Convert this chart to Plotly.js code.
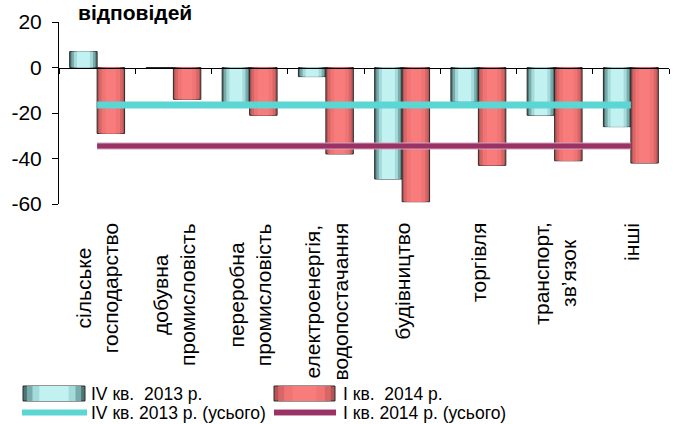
<!DOCTYPE html>
<html>
<head>
<meta charset="utf-8">
<script src="https://cdn.plot.ly/plotly-3.0.1.min.js"></script>
<style>html,body{margin:0;padding:0;background:#fff;}#chart{width:677px;height:424px;}</style>
</head>
<body>
<div id="chart"></div>
<script>
// ---- data ----
var categories = ["c1","c2","c3","c4","c5","c6","c7","c8"];
var categoryLabels = [
  "сільське<br>господарство",
  "добувна<br>промисловість",
  "переробна<br>промисловість",
  "електроенергія,<br>водопостачання",
  "будівництво",
  "торгівля",
  "транспорт,<br>зв’язок",
  "інші"
];
var q4_2013 = [7, 0, -16, -4, -49, -15, -21, -26];
var q1_2014 = [-29, -14, -21, -38, -59, -43, -41, -42];
var total_q4_2013 = [-16.5, -16.5, -16.5, -16.5, -16.5, -16.5, -16.5, -16.5];
var total_q1_2014 = [-34.5, -34.5, -34.5, -34.5, -34.5, -34.5, -34.5, -34.5];
var seriesNames = ["IV кв.\u00A0 2013 р.", "I кв.\u00A0 2014 р.", "IV кв. 2013 р. (усього)", "I кв. 2014 р. (усього)"];
var yTicks = [20, 0, -20, -40, -60];

var FONT = "Liberation Sans, Arial, sans-serif";
var W = 677, H = 424, ML = 59, MR = 8, MT = 22, MB = 220;
var PW = W - ML - MR, PH = H - MT - MB;
function px(x) { return (x - ML) / PW; }
function py(y) { return (H - MB - y) / PH; }

// shading layers (outer -> inner) to imitate cylindrical gradient
var tealLayers = [
  { w: 0.36, c: "#4e7676" },
  { w: 0.315, c: "#78abab" },
  { w: 0.25, c: "#a4dada" },
  { w: 0.17, c: "#c2f1f1" }
];
var redLayers = [
  { w: 0.36, c: "#b45454" },
  { w: 0.31, c: "#d86666" },
  { w: 0.24, c: "#f07474" },
  { w: 0.14, c: "#f97c7c" }
];
function barLayers(values, name, center, layers) {
  return layers.map(function (L, i) {
    return {
      type: "bar", x: categories, y: values, name: name,
      width: L.w, offset: center - L.w / 2,
      marker: { color: L.c, line: { width: i === 0 ? 1 : 0, color: "#2a2a2a" } },
      showlegend: false, hoverinfo: "skip"
    };
  });
}

var traces = []
  .concat(barLayers(q4_2013, seriesNames[0], -0.18, tealLayers))
  .concat(barLayers(q1_2014, seriesNames[1], 0.18, redLayers));

traces.push({
  type: "scatter", mode: "lines", x: categories, y: total_q4_2013, name: seriesNames[2],
  line: { color: "#5cd6d3", width: 7 }, showlegend: false, hoverinfo: "skip"
});
traces.push({
  type: "scatter", mode: "lines", x: categories, y: total_q1_2014, name: seriesNames[3],
  line: { color: "#d3a3bb", width: 7 }, showlegend: false, hoverinfo: "skip"
});
traces.push({
  type: "scatter", mode: "lines", x: categories, y: total_q1_2014, name: seriesNames[3],
  line: { color: "#993366", width: 5 }, showlegend: false, hoverinfo: "skip"
});

var annotations = categories.map(function (c, i) {
  return {
    x: c, xref: "x", y: py(221), yref: "paper", yanchor: "top", xanchor: "center",
    text: categoryLabels[i], textangle: -90, showarrow: false, align: "center",
    font: { family: FONT, size: 21, color: "#000" }
  };
});
annotations.push({
  x: px(77), xref: "paper", xanchor: "left", y: py(0), yref: "paper", yanchor: "top",
  text: "<b>відповідей</b>", showarrow: false, borderpad: 0,
  font: { family: FONT, size: 21, color: "#000" }
});

// ---- custom legend (wide swatches like the original) ----
var shapes = [];
function gradRect(x0, x1, y0, y1, layers) {
  var cx = (x0 + x1) / 2, full = x1 - x0;
  layers.forEach(function (L, i) {
    var hw = full * (L.w / layers[0].w) / 2;
    shapes.push({
      type: "rect", xref: "paper", yref: "paper",
      x0: px(cx - hw), x1: px(cx + hw), y0: py(y1), y1: py(y0),
      fillcolor: L.c, line: { width: i === 0 ? 1 : 0, color: "#2a2a2a" }, layer: "above"
    });
  });
}
gradRect(23, 85, 386, 401, tealLayers);
gradRect(274, 335, 386, 401, redLayers);
shapes.push({ type: "line", xref: "paper", yref: "paper", x0: px(22), x1: px(87), y0: py(412.5), y1: py(412.5),
  line: { color: "#5cd6d3", width: 6 } });
shapes.push({ type: "line", xref: "paper", yref: "paper", x0: px(274), x1: px(336), y0: py(412.5), y1: py(412.5),
  line: { color: "#d3a3bb", width: 7 } });
shapes.push({ type: "line", xref: "paper", yref: "paper", x0: px(274), x1: px(336), y0: py(412.5), y1: py(412.5),
  line: { color: "#993366", width: 5 } });

var legendPos = [[90, 393.5], [342, 393.5], [90, 412.5], [342, 412.5]];
seriesNames.forEach(function (n, i) {
  annotations.push({
    x: px(legendPos[i][0]), xref: "paper", xanchor: "left",
    y: py(legendPos[i][1]), yref: "paper", yanchor: "middle",
    text: n, showarrow: false, borderpad: 0,
    font: { family: FONT, size: 17.5, color: "#000" }
  });
});

var layout = {
  width: W, height: H,
  margin: { l: ML, r: MR, t: MT, b: MB, autoexpand: false },
  paper_bgcolor: "#fff", plot_bgcolor: "#fff",
  font: { family: FONT, color: "#000" },
  barmode: "overlay",
  showlegend: false,
  xaxis: {
    type: "category", range: [-0.5, 7.5], anchor: "free", position: 0.75,
    showline: true, linecolor: "#000", linewidth: 1,
    ticks: "outside", tickson: "boundaries", ticklen: 5, tickcolor: "#000",
    showticklabels: false, showgrid: false, zeroline: false, fixedrange: true
  },
  yaxis: {
    range: [-60, 20], tickvals: yTicks, ticktext: yTicks.map(String),
    showline: true, linecolor: "#000", linewidth: 1,
    ticks: "outside", ticklen: 6, tickcolor: "#000", ticklabelstandoff: 6,
    tickfont: { family: FONT, size: 21, color: "#000" },
    showgrid: false, zeroline: false, fixedrange: true
  },
  shapes: shapes,
  annotations: annotations
};

Plotly.newPlot("chart", traces, layout, { displayModeBar: false, staticPlot: true });
</script>
</body>
</html>
